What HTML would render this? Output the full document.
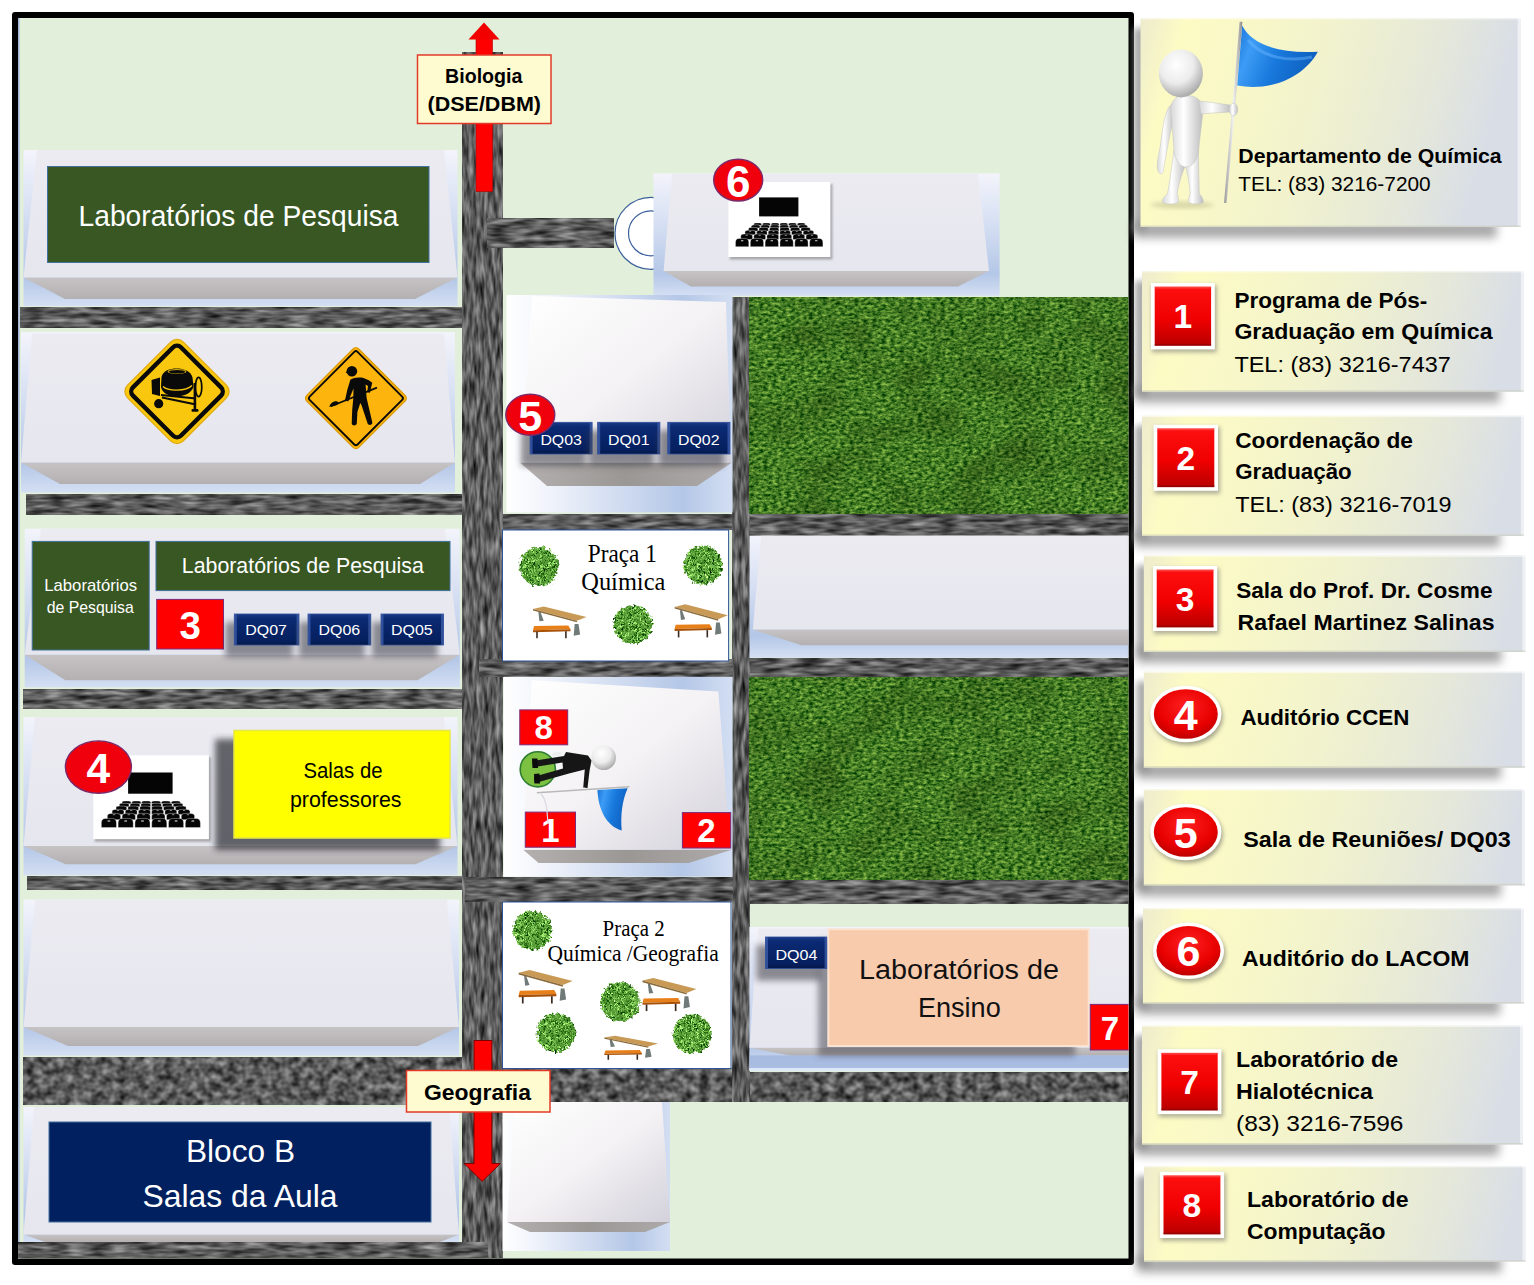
<!DOCTYPE html>
<html><head><meta charset="utf-8"><title>Mapa Departamento de Quimica</title>
<style>
html,body{margin:0;padding:0;background:#fff;}
body{width:1534px;height:1285px;overflow:hidden;font-family:"Liberation Sans",sans-serif;}
svg{display:block;}
</style></head><body>
<svg width="1534" height="1285" viewBox="0 0 1534 1285">
<defs>
<!-- asphalt: horizontal streaks -->
<filter id="asH" x="0" y="0" width="100%" height="100%" filterUnits="objectBoundingBox" color-interpolation-filters="sRGB">
  <feTurbulence type="fractalNoise" baseFrequency="0.045 0.22" numOctaves="2" seed="4" result="n"/>
  <feColorMatrix in="n" type="matrix" values="0.78 0 0 0 -0.03  0.78 0 0 0 -0.03  0.78 0 0 0 -0.03  0 0 0 0 1"/>
</filter>
<filter id="asV" x="0" y="0" width="100%" height="100%" filterUnits="objectBoundingBox" color-interpolation-filters="sRGB">
  <feTurbulence type="fractalNoise" baseFrequency="0.26 0.05" numOctaves="2" seed="7" result="n"/>
  <feColorMatrix in="n" type="matrix" values="0.78 0 0 0 -0.03  0.78 0 0 0 -0.03  0.78 0 0 0 -0.03  0 0 0 0 1"/>
</filter>
<!-- coarse asphalt for thick road -->
<filter id="asC" x="0" y="0" width="100%" height="100%" filterUnits="objectBoundingBox" color-interpolation-filters="sRGB">
  <feTurbulence type="fractalNoise" baseFrequency="0.11 0.12" numOctaves="2" seed="11" result="n"/>
  <feColorMatrix in="n" type="matrix" values="0.78 0 0 0 -0.03  0.78 0 0 0 -0.03  0.78 0 0 0 -0.03  0 0 0 0 1"/>
</filter>
<!-- grass -->
<filter id="grass" x="0" y="0" width="100%" height="100%" filterUnits="objectBoundingBox" color-interpolation-filters="sRGB">
  <feTurbulence type="fractalNoise" baseFrequency="0.22 0.36" numOctaves="3" seed="2" result="n"/>
  <feColorMatrix in="n" type="matrix" values="0.88 0 0 0 -0.17  0.82 0 0 0 0.075  0.45 0 0 0 -0.08  0 0 0 0 1" result="g"/>
  <feTurbulence type="fractalNoise" baseFrequency="0.02 0.025" numOctaves="2" seed="9" result="lo"/>
  <feColorMatrix in="lo" type="matrix" values="0 0 0 0 0.06  0 0 0 0 0.12  0 0 0 0 0  0.7 0 0 0 -0.3" result="shade"/>
  <feComposite in="shade" in2="g" operator="over"/>
</filter>
<!-- bush -->
<filter id="bush" x="-10%" y="-10%" width="120%" height="120%" color-interpolation-filters="sRGB">
  <feTurbulence type="fractalNoise" baseFrequency="0.35" numOctaves="2" seed="5" result="n"/>
  <feColorMatrix in="n" type="matrix" values="1.5 0 0 0 -0.40  1.6 0 0 0 -0.18  1.2 0 0 0 -0.38  0 0 0 0 1" result="g"/>
  <feComposite in="g" in2="SourceGraphic" operator="in" result="c"/>
  <feDisplacementMap in="c" in2="n" scale="7" xChannelSelector="R" yChannelSelector="G"/>
</filter>
<filter id="sh2" x="-30%" y="-30%" width="160%" height="160%"><feGaussianBlur stdDeviation="2"/></filter>
<filter id="sh3" x="-30%" y="-30%" width="160%" height="160%"><feGaussianBlur stdDeviation="3"/></filter>
<filter id="sh5" x="-30%" y="-60%" width="160%" height="220%"><feGaussianBlur stdDeviation="5"/></filter>
<filter id="sh1" x="-30%" y="-30%" width="160%" height="160%"><feGaussianBlur stdDeviation="1.2"/></filter>

<!-- block backgrounds -->
<linearGradient id="bgV" x1="0" y1="0" x2="0" y2="1">
  <stop offset="0" stop-color="#f3f4fb"/><stop offset="0.45" stop-color="#d3ddf2"/><stop offset="0.82" stop-color="#b4c7e7"/><stop offset="1" stop-color="#d4dff3"/>
</linearGradient>
<linearGradient id="bgH" x1="0" y1="0" x2="1" y2="0">
  <stop offset="0" stop-color="#ffffff"/><stop offset="0.18" stop-color="#f1f4fb"/><stop offset="0.78" stop-color="#b4c7e7"/><stop offset="1" stop-color="#d3def2"/>
</linearGradient>
<linearGradient id="topF" x1="0" y1="0" x2="0" y2="1">
  <stop offset="0" stop-color="#ecebf2"/><stop offset="1" stop-color="#e6e6ee"/>
</linearGradient>
<linearGradient id="topD" x1="0" y1="0" x2="1" y2="1">
  <stop offset="0" stop-color="#ffffff"/><stop offset="0.5" stop-color="#f4f2f4"/><stop offset="1" stop-color="#d3d1db"/>
</linearGradient>
<linearGradient id="frontF" x1="0" y1="0" x2="0" y2="1">
  <stop offset="0" stop-color="#c6c3c5"/><stop offset="1" stop-color="#b4b0b2"/>
</linearGradient>
<linearGradient id="frontH" x1="0" y1="0" x2="1" y2="0">
  <stop offset="0" stop-color="#b4b0af"/><stop offset="0.5" stop-color="#9b9795"/><stop offset="1" stop-color="#aeaaa9"/>
</linearGradient>

<!-- legend -->
<linearGradient id="lg" x1="0" y1="0" x2="1" y2="0.28">
  <stop offset="0" stop-color="#edebcd"/><stop offset="0.12" stop-color="#fdfbc4"/><stop offset="0.5" stop-color="#f2f3cd"/><stop offset="0.8" stop-color="#e5e8d9"/><stop offset="1" stop-color="#dadfe6"/>
</linearGradient>
<linearGradient id="redB" x1="0" y1="0" x2="0" y2="1">
  <stop offset="0" stop-color="#ff1010"/><stop offset="0.55" stop-color="#f00000"/><stop offset="1" stop-color="#b80000"/>
</linearGradient>
<radialGradient id="redE" cx="0.5" cy="0.35" r="0.75">
  <stop offset="0" stop-color="#ff2020"/><stop offset="0.6" stop-color="#e80000"/><stop offset="1" stop-color="#a80000"/>
</radialGradient>
<linearGradient id="navy" x1="0" y1="0" x2="0" y2="1">
  <stop offset="0" stop-color="#1b3a86"/><stop offset="0.15" stop-color="#0b2a73"/><stop offset="0.85" stop-color="#06205f"/><stop offset="1" stop-color="#041848"/>
</linearGradient>
<linearGradient id="arrowH" x1="0" y1="0" x2="1" y2="0">
  <stop offset="0" stop-color="#c00000"/><stop offset="0.45" stop-color="#ff2a2a"/><stop offset="1" stop-color="#d00000"/>
</linearGradient>
<radialGradient id="sphere" cx="0.4" cy="0.32" r="0.7">
  <stop offset="0" stop-color="#ffffff"/><stop offset="0.55" stop-color="#ececec"/><stop offset="1" stop-color="#a8a8a8"/>
</radialGradient>
<linearGradient id="bodyG" x1="0" y1="0" x2="1" y2="0">
  <stop offset="0" stop-color="#d8d8d8"/><stop offset="0.4" stop-color="#ffffff"/><stop offset="1" stop-color="#bdbdbd"/>
</linearGradient>
<linearGradient id="flagG" x1="0" y1="0" x2="1" y2="0.3">
  <stop offset="0" stop-color="#1a73d8"/><stop offset="0.25" stop-color="#3c9cf5"/><stop offset="0.6" stop-color="#1878dc"/><stop offset="1" stop-color="#0f62c0"/>
</linearGradient>
<linearGradient id="poleG" x1="0" y1="0" x2="1" y2="0">
  <stop offset="0" stop-color="#9a9a9a"/><stop offset="0.5" stop-color="#f2f2f2"/><stop offset="1" stop-color="#8c8c8c"/>
</linearGradient>
<clipPath id="mapclip"><rect x="18" y="18" width="1110.5" height="1240.5"/></clipPath>
</defs>
<rect x="12.0" y="12.0" width="1122.0" height="1253.0" fill="#000" rx="3"/>
<rect x="18.0" y="18.0" width="1110.5" height="1240.5" fill="#e2efda"/>
<rect x="18.0" y="18.0" width="1.5" height="1240.5" fill="#9fb4d8"/>
<g clip-path="url(#mapclip)">
<rect x="20.0" y="307.5" width="443.0" height="20.0" fill="#555" filter="url(#asH)"/>
<rect x="26.0" y="494.0" width="439.0" height="21.0" fill="#555" filter="url(#asH)"/>
<rect x="23.5" y="689.0" width="439.5" height="19.5" fill="#555" filter="url(#asH)"/>
<rect x="27.5" y="876.0" width="437.5" height="13.5" fill="#555" filter="url(#asH)"/>
<rect x="23.5" y="1057.0" width="439.5" height="47.5" fill="#555" filter="url(#asC)"/>
<rect x="502.0" y="514.0" width="231.0" height="16.0" fill="#555" filter="url(#asH)"/>
<rect x="502.0" y="1068.5" width="248.0" height="33.5" fill="#555" filter="url(#asC)"/>
<rect x="749.0" y="514.0" width="380.0" height="21.5" fill="#555" filter="url(#asH)"/>
<rect x="749.0" y="658.5" width="380.0" height="18.0" fill="#555" filter="url(#asH)"/>
<rect x="749.0" y="879.5" width="380.0" height="24.0" fill="#555" filter="url(#asH)"/>
<rect x="749.0" y="1072.0" width="380.0" height="29.5" fill="#555" filter="url(#asC)"/>
<rect x="462.5" y="52.0" width="40.0" height="1206.0" fill="#555" filter="url(#asV)"/>
<rect x="732.5" y="297.0" width="16.7" height="804.5" fill="#555" filter="url(#asV)"/>
<rect x="18.5" y="1242.0" width="469.0" height="16.0" fill="#555" filter="url(#asH)"/>
<rect x="487.0" y="218.5" width="127.0" height="29.0" fill="#555" filter="url(#asH)"/>
<rect x="479.0" y="659.5" width="254.0" height="17.0" fill="#555" filter="url(#asH)"/>
<rect x="465.0" y="877.0" width="268.0" height="25.0" fill="#555" filter="url(#asH)"/>
<rect x="749.2" y="297.0" width="379.8" height="217.0" fill="#3c7d2b" filter="url(#grass)"/>
<rect x="749.2" y="677.0" width="379.8" height="202.5" fill="#3c7d2b" filter="url(#grass)"/>
<rect x="23.5" y="150.0" width="434.0" height="156.0" fill="url(#bgV)"/>
<polygon points="23.5,277.5 457.5,277.5 415.0,299.0 65.0,299.0" fill="url(#frontF)"/>
<polygon points="37.0,150.0 444.0,150.0 457.5,277.5 23.5,277.5" fill="url(#topF)"/>
<rect x="21.0" y="332.0" width="434.0" height="160.5" fill="url(#bgV)"/>
<polygon points="21.0,462.5 455.0,462.5 420.0,484.0 60.0,484.0" fill="url(#frontF)"/>
<polygon points="32.0,333.5 444.0,333.5 455.0,462.5 21.0,462.5" fill="url(#topF)"/>
<rect x="24.7" y="528.7" width="435.1" height="158.7" fill="url(#bgV)"/>
<polygon points="24.7,654.8 459.8,654.8 417.4,680.2 65.4,680.2" fill="url(#frontF)"/>
<polygon points="41.0,528.7 445.0,528.7 459.8,654.8 24.7,654.8" fill="url(#topF)"/>
<rect x="23.5" y="717.0" width="434.0" height="158.2" fill="url(#bgV)"/>
<polygon points="23.5,846.0 457.5,846.0 415.4,864.2 65.6,864.2" fill="url(#frontF)"/>
<polygon points="35.0,717.0 444.0,717.0 457.5,846.0 23.5,846.0" fill="url(#topF)"/>
<rect x="23.5" y="899.5" width="435.5" height="156.0" fill="url(#bgV)"/>
<polygon points="23.5,1027.0 459.0,1027.0 418.0,1046.0 68.0,1046.0" fill="url(#frontF)"/>
<polygon points="35.0,899.5 447.0,899.5 459.0,1027.0 23.5,1027.0" fill="url(#topF)"/>
<rect x="23.5" y="1107.0" width="435.5" height="135.0" fill="url(#bgV)"/>
<polygon points="23.5,1234.5 459.0,1234.5 440.0,1242.0 45.0,1242.0" fill="url(#frontF)"/>
<polygon points="34.0,1107.0 449.0,1107.0 459.0,1234.5 23.5,1234.5" fill="url(#topF)"/>
<rect x="502.5" y="1102.0" width="167.5" height="149.0" fill="url(#bgH)"/>
<polygon points="507.0,1222.0 670.0,1222.0 645.0,1232.0 530.0,1232.0" fill="url(#frontH)"/>
<polygon points="515.0,1102.0 662.0,1102.0 670.0,1222.0 507.0,1222.0" fill="url(#topD)"/>
<rect x="749.5" y="535.7" width="379.5" height="122.1" fill="url(#bgV)"/>
<polygon points="752.8,629.6 1129.0,629.6 1129.0,645.2 801.6,645.2" fill="url(#frontF)"/>
<polygon points="761.0,535.7 1129.0,535.7 1129.0,629.6 752.8,629.6" fill="url(#topF)"/>
<rect x="749.4" y="927.0" width="379.6" height="144.0" fill="url(#bgV)"/>
<polygon points="749.4,1047.8 1129.0,1047.8 1129.0,1055.4 790.0,1055.4" fill="url(#frontF)"/>
<polygon points="758.0,928.5 1129.0,928.5 1129.0,1047.8 749.4,1047.8" fill="url(#topF)"/>
<rect x="749.4" y="1055.4" width="379.6" height="12.6" fill="#9db3dc" opacity="0.75"/>
<rect x="749.4" y="1068.0" width="379.6" height="3.0" fill="#dce8f6"/>
<circle cx="651" cy="233.3" r="36" fill="#fff" stroke="#3a5f9a" stroke-width="1.2"/>
<circle cx="651" cy="233.3" r="22.5" fill="#fff" stroke="#3a5f9a" stroke-width="1.2"/>
<rect x="653.5" y="173.4" width="346.1" height="122.4" fill="url(#bgV)"/>
<polygon points="663.6,271.0 989.0,271.0 958.0,286.5 691.0,286.5" fill="url(#frontF)"/>
<polygon points="672.0,174.0 978.0,174.0 989.0,271.0 663.6,271.0" fill="url(#topF)"/>
<rect x="506.5" y="295.0" width="226.0" height="217.5" fill="url(#bgH)"/>
<polygon points="520.0,462.5 732.0,462.5 697.0,486.0 547.0,486.0" fill="url(#frontH)"/>
<polygon points="532.0,296.0 726.0,302.0 731.0,462.5 520.0,462.5" fill="url(#topD)"/>
<rect x="503.6" y="676.8" width="229.0" height="199.8" fill="url(#bgH)"/>
<polygon points="523.2,849.7 732.0,849.7 688.4,863.0 538.6,863.0" fill="url(#frontH)"/>
<polygon points="531.8,680.3 718.4,691.4 730.4,849.7 523.2,849.7" fill="url(#topD)"/>
<rect x="502.5" y="530.0" width="226.1" height="131.0" fill="#fff" stroke="#2f5597" stroke-width="1"/>
<rect x="502.5" y="902.0" width="228.5" height="166.5" fill="#fff" stroke="#2f5597" stroke-width="1"/>
</g>
<g clip-path="url(#mapclip)">
<rect x="47.5" y="166.5" width="381.5" height="96.0" fill="#385723" stroke="#41719c" stroke-width="1"/>
<text x="78.5" y="226.0" font-size="28.6" font-family="Liberation Sans, sans-serif" font-weight="normal" fill="#fff" text-anchor="start" textLength="320.0" lengthAdjust="spacingAndGlyphs" >Laboratórios de Pesquisa</text>
<rect x="32.2" y="541.4" width="117.0" height="108.6" fill="#385723" stroke="#41719c" stroke-width="1"/>
<text x="44.2" y="590.6" font-size="15.9" font-family="Liberation Sans, sans-serif" font-weight="normal" fill="#fff" text-anchor="start" textLength="93.0" lengthAdjust="spacingAndGlyphs" >Laboratórios</text>
<text x="46.8" y="612.5" font-size="15.9" font-family="Liberation Sans, sans-serif" font-weight="normal" fill="#fff" text-anchor="start" textLength="87.0" lengthAdjust="spacingAndGlyphs" >de Pesquisa</text>
<rect x="156.0" y="541.4" width="294.0" height="49.2" fill="#385723" stroke="#41719c" stroke-width="1"/>
<text x="181.8" y="573.3" font-size="21.4" font-family="Liberation Sans, sans-serif" font-weight="normal" fill="#fff" text-anchor="start" textLength="242.0" lengthAdjust="spacingAndGlyphs" >Laboratórios de Pesquisa</text>
<rect x="156.7" y="599.4" width="66.8" height="49.6" fill="#ff0000" stroke="#7a2a7a" stroke-width="1"/>
<text x="190.1" y="638.5" font-size="38.5" font-family="Liberation Sans, sans-serif" font-weight="bold" fill="#fff" text-anchor="middle"  >3</text>
<rect x="225.3" y="622.0" width="67.7" height="35.0" fill="#3a3a44" opacity="0.55" filter="url(#sh3)"/>
<rect x="234.3" y="614.0" width="64.7" height="31.0" fill="url(#navy)" stroke="#2f4f9a" stroke-width="0.8"/>
<rect x="234.3" y="614.0" width="2.5" height="31.0" fill="#3a5aa8" opacity="0.8"/>
<rect x="296.5" y="614.0" width="2.5" height="31.0" fill="#3a5aa8" opacity="0.8"/>
<text x="245.3" y="635.3" font-size="15" font-family="Liberation Sans, sans-serif" font-weight="normal" fill="#fff" text-anchor="start" textLength="41.7" lengthAdjust="spacingAndGlyphs" >DQ07</text>
<rect x="299.0" y="622.0" width="65.8" height="35.0" fill="#3a3a44" opacity="0.55" filter="url(#sh3)"/>
<rect x="308.0" y="614.0" width="62.8" height="31.0" fill="url(#navy)" stroke="#2f4f9a" stroke-width="0.8"/>
<rect x="308.0" y="614.0" width="2.5" height="31.0" fill="#3a5aa8" opacity="0.8"/>
<rect x="368.3" y="614.0" width="2.5" height="31.0" fill="#3a5aa8" opacity="0.8"/>
<text x="318.5" y="635.3" font-size="15" font-family="Liberation Sans, sans-serif" font-weight="normal" fill="#fff" text-anchor="start" textLength="41.7" lengthAdjust="spacingAndGlyphs" >DQ06</text>
<rect x="372.0" y="622.0" width="65.5" height="35.0" fill="#3a3a44" opacity="0.55" filter="url(#sh3)"/>
<rect x="381.0" y="614.0" width="62.5" height="31.0" fill="url(#navy)" stroke="#2f4f9a" stroke-width="0.8"/>
<rect x="381.0" y="614.0" width="2.5" height="31.0" fill="#3a5aa8" opacity="0.8"/>
<rect x="441.0" y="614.0" width="2.5" height="31.0" fill="#3a5aa8" opacity="0.8"/>
<text x="391.0" y="635.3" font-size="15" font-family="Liberation Sans, sans-serif" font-weight="normal" fill="#fff" text-anchor="start" textLength="41.7" lengthAdjust="spacingAndGlyphs" >DQ05</text>
<rect x="215.0" y="739.0" width="225.0" height="111.0" fill="#2a2a30" opacity="0.7" filter="url(#sh3)"/>
<rect x="234.0" y="730.5" width="216.0" height="107.5" fill="#ffff00" stroke="#e6e64a" stroke-width="1.5"/>
<text x="303.5" y="778.0" font-size="21.6" font-family="Liberation Sans, sans-serif" font-weight="normal" fill="#000" text-anchor="start" textLength="79.0" lengthAdjust="spacingAndGlyphs" >Salas de</text>
<text x="290.0" y="807.0" font-size="21.6" font-family="Liberation Sans, sans-serif" font-weight="normal" fill="#000" text-anchor="start" textLength="111.5" lengthAdjust="spacingAndGlyphs" >professores</text>
<rect x="94.7" y="757.3" width="116.2" height="84.4" fill="#555" opacity="0.45" filter="url(#sh1)"/>
<rect x="93.2" y="755.3" width="115.7" height="83.9" fill="#fff"/>
<rect x="128.1" y="772.5" width="44.5" height="21.2" fill="#050505"/>
<path d="M122.04,803.85 V802.16 Q122.04,801.03 124.51,801.03 H128.46 Q130.93,801.03 130.93,802.16 V803.85 Z" fill="#050505" stroke="#fff" stroke-width="0.35"/>
<path d="M131.91,803.85 V802.16 Q131.91,801.03 134.38,801.03 H138.33 Q140.80,801.03 140.80,802.16 V803.85 Z" fill="#050505" stroke="#fff" stroke-width="0.35"/>
<path d="M141.79,803.85 V802.16 Q141.79,801.03 144.25,801.03 H148.20 Q150.67,801.03 150.67,802.16 V803.85 Z" fill="#050505" stroke="#fff" stroke-width="0.35"/>
<path d="M151.66,803.85 V802.16 Q151.66,801.03 154.13,801.03 H158.08 Q160.55,801.03 160.55,802.16 V803.85 Z" fill="#050505" stroke="#fff" stroke-width="0.35"/>
<path d="M161.53,803.85 V802.16 Q161.53,801.03 164.00,801.03 H167.95 Q170.42,801.03 170.42,802.16 V803.85 Z" fill="#050505" stroke="#fff" stroke-width="0.35"/>
<path d="M171.41,803.85 V802.16 Q171.41,801.03 173.87,801.03 H177.82 Q180.29,801.03 180.29,802.16 V803.85 Z" fill="#050505" stroke="#fff" stroke-width="0.35"/>
<path d="M119.35,806.78 V804.68 Q119.35,803.29 122.05,803.29 H126.35 Q129.05,803.29 129.05,804.68 V806.78 Z" fill="#050505" stroke="#fff" stroke-width="0.35"/>
<path d="M130.12,806.78 V804.68 Q130.12,803.29 132.82,803.29 H137.13 Q139.82,803.29 139.82,804.68 V806.78 Z" fill="#050505" stroke="#fff" stroke-width="0.35"/>
<path d="M140.90,806.78 V804.68 Q140.90,803.29 143.59,803.29 H147.90 Q150.59,803.29 150.59,804.68 V806.78 Z" fill="#050505" stroke="#fff" stroke-width="0.35"/>
<path d="M151.67,806.78 V804.68 Q151.67,803.29 154.36,803.29 H158.67 Q161.36,803.29 161.36,804.68 V806.78 Z" fill="#050505" stroke="#fff" stroke-width="0.35"/>
<path d="M162.44,806.78 V804.68 Q162.44,803.29 165.13,803.29 H169.44 Q172.13,803.29 172.13,804.68 V806.78 Z" fill="#050505" stroke="#fff" stroke-width="0.35"/>
<path d="M173.21,806.78 V804.68 Q173.21,803.29 175.90,803.29 H180.21 Q182.90,803.29 182.90,804.68 V806.78 Z" fill="#050505" stroke="#fff" stroke-width="0.35"/>
<path d="M116.03,810.23 V807.74 Q116.03,806.08 119.00,806.08 H123.76 Q126.73,806.08 126.73,807.74 V810.23 Z" fill="#050505" stroke="#fff" stroke-width="0.35"/>
<path d="M127.91,810.23 V807.74 Q127.91,806.08 130.88,806.08 H135.64 Q138.61,806.08 138.61,807.74 V810.23 Z" fill="#050505" stroke="#fff" stroke-width="0.35"/>
<path d="M139.79,810.23 V807.74 Q139.79,806.08 142.76,806.08 H147.52 Q150.49,806.08 150.49,807.74 V810.23 Z" fill="#050505" stroke="#fff" stroke-width="0.35"/>
<path d="M151.68,810.23 V807.74 Q151.68,806.08 154.65,806.08 H159.40 Q162.37,806.08 162.37,807.74 V810.23 Z" fill="#050505" stroke="#fff" stroke-width="0.35"/>
<path d="M163.56,810.23 V807.74 Q163.56,806.08 166.53,806.08 H171.28 Q174.25,806.08 174.25,807.74 V810.23 Z" fill="#050505" stroke="#fff" stroke-width="0.35"/>
<path d="M175.44,810.23 V807.74 Q175.44,806.08 178.41,806.08 H183.16 Q186.13,806.08 186.13,807.74 V810.23 Z" fill="#050505" stroke="#fff" stroke-width="0.35"/>
<path d="M112.08,814.39 V811.40 Q112.08,809.40 115.38,809.40 H120.66 Q123.96,809.40 123.96,811.40 V814.39 Z" fill="#050505" stroke="#fff" stroke-width="0.35"/>
<rect x="116.96" y="810.28" width="2.11" height="0.60" fill="#ddd"/>
<path d="M125.28,814.39 V811.40 Q125.28,809.40 128.58,809.40 H133.86 Q137.16,809.40 137.16,811.40 V814.39 Z" fill="#050505" stroke="#fff" stroke-width="0.35"/>
<rect x="130.17" y="810.28" width="2.11" height="0.60" fill="#ddd"/>
<path d="M138.48,814.39 V811.40 Q138.48,809.40 141.78,809.40 H147.07 Q150.37,809.40 150.37,811.40 V814.39 Z" fill="#050505" stroke="#fff" stroke-width="0.35"/>
<rect x="143.37" y="810.28" width="2.11" height="0.60" fill="#ddd"/>
<path d="M151.69,814.39 V811.40 Q151.69,809.40 154.99,809.40 H160.27 Q163.57,809.40 163.57,811.40 V814.39 Z" fill="#050505" stroke="#fff" stroke-width="0.35"/>
<rect x="156.57" y="810.28" width="2.11" height="0.60" fill="#ddd"/>
<path d="M164.89,814.39 V811.40 Q164.89,809.40 168.19,809.40 H173.47 Q176.77,809.40 176.77,811.40 V814.39 Z" fill="#050505" stroke="#fff" stroke-width="0.35"/>
<rect x="169.77" y="810.28" width="2.11" height="0.60" fill="#ddd"/>
<path d="M178.09,814.39 V811.40 Q178.09,809.40 181.39,809.40 H186.67 Q189.97,809.40 189.97,811.40 V814.39 Z" fill="#050505" stroke="#fff" stroke-width="0.35"/>
<rect x="182.98" y="810.28" width="2.11" height="0.60" fill="#ddd"/>
<path d="M107.34,819.71 V815.92 Q107.34,813.39 111.03,813.39 H116.95 Q120.65,813.39 120.65,815.92 V819.71 Z" fill="#050505" stroke="#fff" stroke-width="0.35"/>
<rect x="112.81" y="814.50" width="2.37" height="0.61" fill="#ddd"/>
<path d="M122.12,819.71 V815.92 Q122.12,813.39 125.82,813.39 H131.74 Q135.43,813.39 135.43,815.92 V819.71 Z" fill="#050505" stroke="#fff" stroke-width="0.35"/>
<rect x="127.60" y="814.50" width="2.37" height="0.61" fill="#ddd"/>
<path d="M136.91,819.71 V815.92 Q136.91,813.39 140.61,813.39 H146.52 Q150.22,813.39 150.22,815.92 V819.71 Z" fill="#050505" stroke="#fff" stroke-width="0.35"/>
<rect x="142.38" y="814.50" width="2.37" height="0.61" fill="#ddd"/>
<path d="M151.70,819.71 V815.92 Q151.70,813.39 155.40,813.39 H161.31 Q165.01,813.39 165.01,815.92 V819.71 Z" fill="#050505" stroke="#fff" stroke-width="0.35"/>
<rect x="157.17" y="814.50" width="2.37" height="0.61" fill="#ddd"/>
<path d="M166.49,819.71 V815.92 Q166.49,813.39 170.18,813.39 H176.10 Q179.80,813.39 179.80,815.92 V819.71 Z" fill="#050505" stroke="#fff" stroke-width="0.35"/>
<rect x="171.96" y="814.50" width="2.37" height="0.61" fill="#ddd"/>
<path d="M181.28,819.71 V815.92 Q181.28,813.39 184.97,813.39 H190.89 Q194.58,813.39 194.58,815.92 V819.71 Z" fill="#050505" stroke="#fff" stroke-width="0.35"/>
<rect x="186.75" y="814.50" width="2.37" height="0.61" fill="#ddd"/>
<path d="M101.33,827.62 V823.03 Q101.33,818.45 105.53,818.45 H112.25 Q116.45,818.45 116.45,823.03 V827.62 Z" fill="#050505" stroke="#fff" stroke-width="0.35"/>
<rect x="107.54" y="820.46" width="2.69" height="1.10" fill="#ddd"/>
<path d="M118.12,827.62 V823.03 Q118.12,818.45 122.32,818.45 H129.04 Q133.24,818.45 133.24,823.03 V827.62 Z" fill="#050505" stroke="#fff" stroke-width="0.35"/>
<rect x="124.34" y="820.46" width="2.69" height="1.10" fill="#ddd"/>
<path d="M134.92,827.62 V823.03 Q134.92,818.45 139.12,818.45 H145.84 Q150.04,818.45 150.04,823.03 V827.62 Z" fill="#050505" stroke="#fff" stroke-width="0.35"/>
<rect x="141.13" y="820.46" width="2.69" height="1.10" fill="#ddd"/>
<path d="M151.72,827.62 V823.03 Q151.72,818.45 155.92,818.45 H162.63 Q166.83,818.45 166.83,823.03 V827.62 Z" fill="#050505" stroke="#fff" stroke-width="0.35"/>
<rect x="157.93" y="820.46" width="2.69" height="1.10" fill="#ddd"/>
<path d="M168.51,827.62 V823.03 Q168.51,818.45 172.71,818.45 H179.43 Q183.63,818.45 183.63,823.03 V827.62 Z" fill="#050505" stroke="#fff" stroke-width="0.35"/>
<rect x="174.73" y="820.46" width="2.69" height="1.10" fill="#ddd"/>
<path d="M185.31,827.62 V823.03 Q185.31,818.45 189.51,818.45 H196.23 Q200.42,818.45 200.42,823.03 V827.62 Z" fill="#050505" stroke="#fff" stroke-width="0.35"/>
<rect x="191.52" y="820.46" width="2.69" height="1.10" fill="#ddd"/>
<ellipse cx="98.4" cy="767.1" rx="33" ry="26.2" fill="#f0000c" stroke="#7a2a6a" stroke-width="1.4"/>
<text x="98.4" y="783.2" font-size="42.5" font-family="Liberation Sans, sans-serif" font-weight="bold" fill="#fff" text-anchor="middle"  >4</text>
<rect x="729.8" y="184.0" width="102.6" height="75.5" fill="#555" opacity="0.45" filter="url(#sh1)"/>
<rect x="728.3" y="182.0" width="102.1" height="75.0" fill="#fff"/>
<rect x="759.1" y="197.4" width="39.3" height="19.0" fill="#050505"/>
<path d="M753.75,225.40 V223.89 Q753.75,222.88 755.93,222.88 H759.41 Q761.59,222.88 761.59,223.89 V225.40 Z" fill="#050505" stroke="#fff" stroke-width="0.35"/>
<path d="M762.46,225.40 V223.89 Q762.46,222.88 764.64,222.88 H768.13 Q770.30,222.88 770.30,223.89 V225.40 Z" fill="#050505" stroke="#fff" stroke-width="0.35"/>
<path d="M771.18,225.40 V223.89 Q771.18,222.88 773.35,222.88 H776.84 Q779.02,222.88 779.02,223.89 V225.40 Z" fill="#050505" stroke="#fff" stroke-width="0.35"/>
<path d="M779.89,225.40 V223.89 Q779.89,222.88 782.07,222.88 H785.55 Q787.73,222.88 787.73,223.89 V225.40 Z" fill="#050505" stroke="#fff" stroke-width="0.35"/>
<path d="M788.60,225.40 V223.89 Q788.60,222.88 790.78,222.88 H794.26 Q796.44,222.88 796.44,223.89 V225.40 Z" fill="#050505" stroke="#fff" stroke-width="0.35"/>
<path d="M797.31,225.40 V223.89 Q797.31,222.88 799.49,222.88 H802.98 Q805.15,222.88 805.15,223.89 V225.40 Z" fill="#050505" stroke="#fff" stroke-width="0.35"/>
<path d="M751.38,228.02 V226.14 Q751.38,224.90 753.75,224.90 H757.56 Q759.93,224.90 759.93,226.14 V228.02 Z" fill="#050505" stroke="#fff" stroke-width="0.35"/>
<path d="M760.88,228.02 V226.14 Q760.88,224.90 763.26,224.90 H767.06 Q769.44,224.90 769.44,226.14 V228.02 Z" fill="#050505" stroke="#fff" stroke-width="0.35"/>
<path d="M770.39,228.02 V226.14 Q770.39,224.90 772.77,224.90 H776.57 Q778.94,224.90 778.94,226.14 V228.02 Z" fill="#050505" stroke="#fff" stroke-width="0.35"/>
<path d="M779.89,228.02 V226.14 Q779.89,224.90 782.27,224.90 H786.07 Q788.45,224.90 788.45,226.14 V228.02 Z" fill="#050505" stroke="#fff" stroke-width="0.35"/>
<path d="M789.40,228.02 V226.14 Q789.40,224.90 791.78,224.90 H795.58 Q797.95,224.90 797.95,226.14 V228.02 Z" fill="#050505" stroke="#fff" stroke-width="0.35"/>
<path d="M798.90,228.02 V226.14 Q798.90,224.90 801.28,224.90 H805.08 Q807.46,224.90 807.46,226.14 V228.02 Z" fill="#050505" stroke="#fff" stroke-width="0.35"/>
<path d="M748.45,231.11 V228.88 Q748.45,227.39 751.07,227.39 H755.26 Q757.88,227.39 757.88,228.88 V231.11 Z" fill="#050505" stroke="#fff" stroke-width="0.35"/>
<path d="M758.93,231.11 V228.88 Q758.93,227.39 761.55,227.39 H765.75 Q768.37,227.39 768.37,228.88 V231.11 Z" fill="#050505" stroke="#fff" stroke-width="0.35"/>
<path d="M769.42,231.11 V228.88 Q769.42,227.39 772.04,227.39 H776.23 Q778.85,227.39 778.85,228.88 V231.11 Z" fill="#050505" stroke="#fff" stroke-width="0.35"/>
<path d="M779.90,231.11 V228.88 Q779.90,227.39 782.52,227.39 H786.72 Q789.34,227.39 789.34,228.88 V231.11 Z" fill="#050505" stroke="#fff" stroke-width="0.35"/>
<path d="M790.39,231.11 V228.88 Q790.39,227.39 793.01,227.39 H797.20 Q799.82,227.39 799.82,228.88 V231.11 Z" fill="#050505" stroke="#fff" stroke-width="0.35"/>
<path d="M800.87,231.11 V228.88 Q800.87,227.39 803.49,227.39 H807.69 Q810.31,227.39 810.31,228.88 V231.11 Z" fill="#050505" stroke="#fff" stroke-width="0.35"/>
<path d="M744.96,234.82 V232.15 Q744.96,230.36 747.87,230.36 H752.53 Q755.45,230.36 755.45,232.15 V234.82 Z" fill="#050505" stroke="#fff" stroke-width="0.35"/>
<rect x="749.27" y="231.15" width="1.86" height="0.60" fill="#ddd"/>
<path d="M756.61,234.82 V232.15 Q756.61,230.36 759.52,230.36 H764.18 Q767.10,230.36 767.10,232.15 V234.82 Z" fill="#050505" stroke="#fff" stroke-width="0.35"/>
<rect x="760.92" y="231.15" width="1.86" height="0.60" fill="#ddd"/>
<path d="M768.26,234.82 V232.15 Q768.26,230.36 771.17,230.36 H775.83 Q778.75,230.36 778.75,232.15 V234.82 Z" fill="#050505" stroke="#fff" stroke-width="0.35"/>
<rect x="772.57" y="231.15" width="1.86" height="0.60" fill="#ddd"/>
<path d="M779.91,234.82 V232.15 Q779.91,230.36 782.82,230.36 H787.48 Q790.40,230.36 790.40,232.15 V234.82 Z" fill="#050505" stroke="#fff" stroke-width="0.35"/>
<rect x="784.22" y="231.15" width="1.86" height="0.60" fill="#ddd"/>
<path d="M791.56,234.82 V232.15 Q791.56,230.36 794.47,230.36 H799.14 Q802.05,230.36 802.05,232.15 V234.82 Z" fill="#050505" stroke="#fff" stroke-width="0.35"/>
<rect x="795.87" y="231.15" width="1.86" height="0.60" fill="#ddd"/>
<path d="M803.21,234.82 V232.15 Q803.21,230.36 806.13,230.36 H810.79 Q813.70,230.36 813.70,232.15 V234.82 Z" fill="#050505" stroke="#fff" stroke-width="0.35"/>
<rect x="807.52" y="231.15" width="1.86" height="0.60" fill="#ddd"/>
<path d="M740.78,239.58 V236.19 Q740.78,233.93 744.04,233.93 H749.26 Q752.52,233.93 752.52,236.19 V239.58 Z" fill="#050505" stroke="#fff" stroke-width="0.35"/>
<rect x="745.60" y="234.92" width="2.09" height="0.60" fill="#ddd"/>
<path d="M753.82,239.58 V236.19 Q753.82,233.93 757.09,233.93 H762.31 Q765.57,233.93 765.57,236.19 V239.58 Z" fill="#050505" stroke="#fff" stroke-width="0.35"/>
<rect x="758.65" y="234.92" width="2.09" height="0.60" fill="#ddd"/>
<path d="M766.87,239.58 V236.19 Q766.87,233.93 770.14,233.93 H775.36 Q778.62,233.93 778.62,236.19 V239.58 Z" fill="#050505" stroke="#fff" stroke-width="0.35"/>
<rect x="771.70" y="234.92" width="2.09" height="0.60" fill="#ddd"/>
<path d="M779.92,239.58 V236.19 Q779.92,233.93 783.19,233.93 H788.41 Q791.67,233.93 791.67,236.19 V239.58 Z" fill="#050505" stroke="#fff" stroke-width="0.35"/>
<rect x="784.75" y="234.92" width="2.09" height="0.60" fill="#ddd"/>
<path d="M792.97,239.58 V236.19 Q792.97,233.93 796.24,233.93 H801.45 Q804.72,233.93 804.72,236.19 V239.58 Z" fill="#050505" stroke="#fff" stroke-width="0.35"/>
<rect x="797.80" y="234.92" width="2.09" height="0.60" fill="#ddd"/>
<path d="M806.02,239.58 V236.19 Q806.02,233.93 809.28,233.93 H814.50 Q817.77,233.93 817.77,236.19 V239.58 Z" fill="#050505" stroke="#fff" stroke-width="0.35"/>
<rect x="810.85" y="234.92" width="2.09" height="0.60" fill="#ddd"/>
<path d="M735.47,246.65 V242.55 Q735.47,238.45 739.18,238.45 H745.11 Q748.81,238.45 748.81,242.55 V246.65 Z" fill="#050505" stroke="#fff" stroke-width="0.35"/>
<rect x="740.96" y="240.25" width="2.37" height="0.98" fill="#ddd"/>
<path d="M750.29,246.65 V242.55 Q750.29,238.45 754.00,238.45 H759.93 Q763.63,238.45 763.63,242.55 V246.65 Z" fill="#050505" stroke="#fff" stroke-width="0.35"/>
<rect x="755.78" y="240.25" width="2.37" height="0.98" fill="#ddd"/>
<path d="M765.12,246.65 V242.55 Q765.12,238.45 768.82,238.45 H774.75 Q778.46,238.45 778.46,242.55 V246.65 Z" fill="#050505" stroke="#fff" stroke-width="0.35"/>
<rect x="770.60" y="240.25" width="2.37" height="0.98" fill="#ddd"/>
<path d="M779.94,246.65 V242.55 Q779.94,238.45 783.64,238.45 H789.57 Q793.28,238.45 793.28,242.55 V246.65 Z" fill="#050505" stroke="#fff" stroke-width="0.35"/>
<rect x="785.42" y="240.25" width="2.37" height="0.98" fill="#ddd"/>
<path d="M794.76,246.65 V242.55 Q794.76,238.45 798.46,238.45 H804.39 Q808.10,238.45 808.10,242.55 V246.65 Z" fill="#050505" stroke="#fff" stroke-width="0.35"/>
<rect x="800.24" y="240.25" width="2.37" height="0.98" fill="#ddd"/>
<path d="M809.58,246.65 V242.55 Q809.58,238.45 813.29,238.45 H819.21 Q822.92,238.45 822.92,242.55 V246.65 Z" fill="#050505" stroke="#fff" stroke-width="0.35"/>
<rect x="815.06" y="240.25" width="2.37" height="0.98" fill="#ddd"/>
<ellipse cx="738.2" cy="180.1" rx="24.5" ry="20.9" fill="#f0000c" stroke="#7a2a6a" stroke-width="1.4"/>
<text x="738.2" y="197.3" font-size="44" font-family="Liberation Sans, sans-serif" font-weight="bold" fill="#fff" text-anchor="middle"  >6</text>
<rect x="521.1" y="430.3" width="65.0" height="35.7" fill="#3a3a44" opacity="0.55" filter="url(#sh3)"/>
<rect x="530.1" y="422.3" width="62.0" height="31.7" fill="url(#navy)" stroke="#2f4f9a" stroke-width="0.8"/>
<rect x="530.1" y="422.3" width="2.5" height="31.7" fill="#3a5aa8" opacity="0.8"/>
<rect x="589.6" y="422.3" width="2.5" height="31.7" fill="#3a5aa8" opacity="0.8"/>
<text x="540.4" y="444.7" font-size="15" font-family="Liberation Sans, sans-serif" font-weight="normal" fill="#fff" text-anchor="start" textLength="41.5" lengthAdjust="spacingAndGlyphs" >DQ03</text>
<rect x="588.7" y="430.3" width="65.2" height="35.7" fill="#3a3a44" opacity="0.55" filter="url(#sh3)"/>
<rect x="597.7" y="422.3" width="62.2" height="31.7" fill="url(#navy)" stroke="#2f4f9a" stroke-width="0.8"/>
<rect x="597.7" y="422.3" width="2.5" height="31.7" fill="#3a5aa8" opacity="0.8"/>
<rect x="657.4" y="422.3" width="2.5" height="31.7" fill="#3a5aa8" opacity="0.8"/>
<text x="608.0" y="444.7" font-size="15" font-family="Liberation Sans, sans-serif" font-weight="normal" fill="#fff" text-anchor="start" textLength="41.5" lengthAdjust="spacingAndGlyphs" >DQ01</text>
<rect x="658.8" y="430.3" width="65.2" height="35.7" fill="#3a3a44" opacity="0.55" filter="url(#sh3)"/>
<rect x="667.8" y="422.3" width="62.2" height="31.7" fill="url(#navy)" stroke="#2f4f9a" stroke-width="0.8"/>
<rect x="667.8" y="422.3" width="2.5" height="31.7" fill="#3a5aa8" opacity="0.8"/>
<rect x="727.5" y="422.3" width="2.5" height="31.7" fill="#3a5aa8" opacity="0.8"/>
<text x="678.0" y="444.7" font-size="15" font-family="Liberation Sans, sans-serif" font-weight="normal" fill="#fff" text-anchor="start" textLength="41.5" lengthAdjust="spacingAndGlyphs" >DQ02</text>
<ellipse cx="530.3" cy="414.8" rx="24.5" ry="20.5" fill="#f0000c" stroke="#7a2a6a" stroke-width="1.4"/>
<text x="530.3" y="430.7" font-size="43" font-family="Liberation Sans, sans-serif" font-weight="bold" fill="#fff" text-anchor="middle"  >5</text>
<rect x="519.8" y="709.9" width="47.9" height="34.9" fill="#ff0000" stroke="#7a2a7a" stroke-width="1"/>
<text x="543.8" y="739.0" font-size="33" font-family="Liberation Sans, sans-serif" font-weight="bold" fill="#fff" text-anchor="middle"  >8</text>
<rect x="525.3" y="812.1" width="50.2" height="35.1" fill="#ff0000" stroke="#7a2a7a" stroke-width="1"/>
<text x="550.4" y="841.5" font-size="33" font-family="Liberation Sans, sans-serif" font-weight="bold" fill="#fff" text-anchor="middle"  >1</text>
<rect x="682.4" y="812.6" width="48.3" height="35.4" fill="#ff0000" stroke="#7a2a7a" stroke-width="1"/>
<text x="706.5" y="842.0" font-size="33" font-family="Liberation Sans, sans-serif" font-weight="bold" fill="#fff" text-anchor="middle"  >2</text>
<circle cx="537.8" cy="769.3" r="17.6" fill="#7cc142" stroke="#2e7d32" stroke-width="1.6"/>
<path d="M532.5,761 L564,756 L566,752 L588,755.5 L591.5,760.5 L589.5,771 L587.5,788 L583.2,788 L584.8,769.5 L569,773.5 L537,782.5 L534.5,782.8 L534,776.8 L563,768.5 L562.5,762.5 L533,767.2 Z" fill="#161616"/>
<path d="M532,758.5 L537.5,758.5 L538,768 L532.5,768 Z M534,774 L539.5,773.5 L540,783.5 L534.5,783.5 Z" fill="#0c0c0c"/>
<ellipse cx="584" cy="790" rx="4" ry="2.6" fill="#f4f4f4"/>
<ellipse cx="557" cy="754" rx="5" ry="2" fill="#eee" transform="rotate(-12 557 754)"/>
<circle cx="603.7" cy="757.8" r="12.3" fill="url(#sphere)"/>
<path d="M536.9,792.8 L629.4,786.7" stroke="#b9b9b9" stroke-width="1.6"/>
<path d="M541,794 C547,800 547,812 548,824" stroke="#d9d9e2" stroke-width="1.2" fill="none"/>
<path d="M597.4,790 L627.7,788.2 C622,801 620.5,815 621.7,830.5 C607,826 598.5,811 597.4,790 Z" fill="url(#flagG)"/>
<rect x="818.0" y="940.0" width="257.0" height="116.0" fill="#3a3a44" opacity="0.5" filter="url(#sh3)"/>
<rect x="756.5" y="945.0" width="64.6" height="35.6" fill="#3a3a44" opacity="0.55" filter="url(#sh3)"/>
<rect x="765.5" y="937.0" width="61.6" height="31.6" fill="url(#navy)" stroke="#2f4f9a" stroke-width="0.8"/>
<rect x="765.5" y="937.0" width="2.5" height="31.6" fill="#3a5aa8" opacity="0.8"/>
<rect x="824.6" y="937.0" width="2.5" height="31.6" fill="#3a5aa8" opacity="0.8"/>
<text x="775.5" y="960.4" font-size="15" font-family="Liberation Sans, sans-serif" font-weight="normal" fill="#fff" text-anchor="start" textLength="42.0" lengthAdjust="spacingAndGlyphs" >DQ04</text>
<rect x="828.3" y="929.2" width="260.4" height="116.8" fill="#f8cbad" stroke="#fbe3d2" stroke-width="2"/>
<text x="859.0" y="979.2" font-size="28.4" font-family="Liberation Sans, sans-serif" font-weight="normal" fill="#111" text-anchor="start" textLength="200.0" lengthAdjust="spacingAndGlyphs" >Laboratórios de</text>
<text x="917.9" y="1017.2" font-size="28.4" font-family="Liberation Sans, sans-serif" font-weight="normal" fill="#111" text-anchor="start" textLength="82.8" lengthAdjust="spacingAndGlyphs" >Ensino</text>
<rect x="1090.3" y="1004.4" width="39.2" height="45.6" fill="#ff0000" stroke="#7a2a7a" stroke-width="1"/>
<text x="1109.9" y="1040.0" font-size="33" font-family="Liberation Sans, sans-serif" font-weight="bold" fill="#fff" text-anchor="middle"  >7</text>
<rect x="49.0" y="1122.0" width="382.0" height="100.0" fill="#002060" stroke="#41719c" stroke-width="1"/>
<text x="186.0" y="1162.0" font-size="31.4" font-family="Liberation Sans, sans-serif" font-weight="normal" fill="#fff" text-anchor="start" textLength="109.0" lengthAdjust="spacingAndGlyphs" >Bloco B</text>
<text x="142.5" y="1207.0" font-size="31.4" font-family="Liberation Sans, sans-serif" font-weight="normal" fill="#fff" text-anchor="start" textLength="195.0" lengthAdjust="spacingAndGlyphs" >Salas da Aula</text>
<g transform="rotate(45 177 391.5)">
<rect x="137.54" y="352.04" width="78.91" height="78.91" rx="9" fill="#f9c80e" stroke="#e3a90a" stroke-width="1.2"/>
<rect x="142.94" y="357.44" width="68.11" height="68.11" rx="5.8" fill="none" stroke="#0a0a0a" stroke-width="4.4"/>
</g>
<g fill="#0a0a0a" stroke="none">
<path d="M161.5,377 C163,370.5 170,368.5 176.5,368.5 C184,368.5 190.5,371 192.5,377.5 L193.5,386.5 C192,393 184,396.5 176.5,396.5 C169,396.5 161.5,393 161,386.5 Z"/>
<path d="M151.5,380 L160,377.5 L160,396 L152,394 Z"/>
<circle cx="158.7" cy="403.7" r="4.6"/>
<rect x="193.6" y="383" width="2.6" height="28"/>
<rect x="191.5" y="409" width="7" height="2.8" rx="1.2"/>
</g>
<path d="M162,397.5 L196,404.5 M161,395 L196,398.5" stroke="#0a0a0a" stroke-width="2.2" fill="none"/>
<ellipse cx="198.6" cy="387" rx="3.2" ry="9.6" fill="none" stroke="#0a0a0a" stroke-width="1.7"/>
<path d="M163,386.5 C168,391.5 186,391.5 192,385.5" stroke="#f9c80e" stroke-width="1.3" fill="none"/>
<ellipse cx="177" cy="371.5" rx="9.5" ry="2.4" fill="#f9c80e" opacity="0.85"/>
<ellipse cx="177" cy="371.7" rx="8.2" ry="1.7" fill="#0a0a0a"/>
<g transform="rotate(45 355.9 398.2)">
<rect x="319.13" y="361.43" width="73.54" height="73.54" rx="4" fill="#fdb50e" stroke="#d99700" stroke-width="1.2"/>
<rect x="322.03" y="364.33" width="67.74" height="67.74" rx="2.3" fill="none" stroke="#0a0a0a" stroke-width="1.9"/>
</g>
<g fill="#0a0a0a">
<circle cx="351.9" cy="371.3" r="5.3"/>
<path d="M345.6,372.6 L349.5,369.2 L350,374.5 Z"/>
<path d="M350.3,380 C352,378 359,377 363.5,378 L368.8,380.2 L372.3,382.8 L371.6,385.6 L370,392.8 L367.2,392.2 L368,386 L365.6,384.4 L366.6,398 L372.3,422.3 C372.8,425.2 368.6,426 367.6,423.6 L361.6,405.5 L360.3,403 L357.4,412 L356.8,423.6 C356.6,426 351.8,426 351.7,423.4 L352.2,410 L353.3,398 L353.5,388.5 L348.2,401.4 L345,400.2 L347.4,389.5 Z"/>
</g>
<path d="M331,406.2 L377,387.6" stroke="#0a0a0a" stroke-width="1.7"/>
<path d="M329.3,407 C330.5,402 336,400 338.6,402.2 L337.2,405 Z" fill="#0a0a0a"/>
<circle cx="538.9" cy="566.5" r="19.5" fill="#5ea33a" filter="url(#bush)"/>
<circle cx="703.1" cy="565.2" r="19.5" fill="#5ea33a" filter="url(#bush)"/>
<circle cx="632.7" cy="624.7" r="19.5" fill="#5ea33a" filter="url(#bush)"/>
<polygon points="538.4,612.1 540.5,612.1 543.7,620.7 539.4,621.3" fill="#707a78"/>
<polygon points="574.7,623.9 578.5,623.9 580.1,634.4 573.7,635.7" fill="#707a78"/>
<polygon points="533.0,608.9 543.7,606.4 586.5,616.9 576.9,620.7" fill="#c89a55"/>
<polygon points="533.0,608.9 576.9,620.7 576.9,622.3 533.0,610.5" fill="#8a6a3a"/>
<polygon points="534.1,626.1 568.3,625.5 570.5,629.3 533.0,630.2" fill="#e8801a"/>
<polygon points="533.0,630.2 570.5,629.3 570.5,631.2 533.0,632.2" fill="#a85208"/>
<polygon points="536.2,631.8 537.8,631.8 537.8,638.2 536.2,638.2" fill="#3a2a20"/>
<polygon points="565.1,631.2 566.7,631.2 566.7,638.2 565.1,638.2" fill="#3a2a20"/>
<polygon points="679.9,610.3 682.0,610.3 685.2,619.2 681.0,619.9" fill="#707a78"/>
<polygon points="716.1,622.5 719.8,622.5 721.4,633.4 715.0,634.8" fill="#707a78"/>
<polygon points="674.6,606.9 685.2,604.3 727.8,615.2 718.2,619.2" fill="#c89a55"/>
<polygon points="674.6,606.9 718.2,619.2 718.2,620.8 674.6,608.6" fill="#8a6a3a"/>
<polygon points="675.7,624.8 709.7,624.2 711.8,628.1 674.6,629.1" fill="#e8801a"/>
<polygon points="674.6,629.1 711.8,628.1 711.8,630.1 674.6,631.1" fill="#a85208"/>
<polygon points="677.8,630.8 679.4,630.8 679.4,637.4 677.8,637.4" fill="#3a2a20"/>
<polygon points="706.5,630.1 708.1,630.1 708.1,637.4 706.5,637.4" fill="#3a2a20"/>
<text x="587.8" y="561.8" font-size="25.5" font-family="Liberation Serif, serif" font-weight="normal" fill="#000" text-anchor="start" textLength="69.0" lengthAdjust="spacingAndGlyphs" >Praça 1</text>
<text x="581.3" y="590.0" font-size="25.5" font-family="Liberation Serif, serif" font-weight="normal" fill="#000" text-anchor="start" textLength="84.0" lengthAdjust="spacingAndGlyphs" >Química</text>
<circle cx="532.5" cy="930.5" r="19.5" fill="#5ea33a" filter="url(#bush)"/>
<circle cx="620.2" cy="1001.7" r="19.5" fill="#5ea33a" filter="url(#bush)"/>
<circle cx="556" cy="1032.7" r="19.5" fill="#5ea33a" filter="url(#bush)"/>
<circle cx="692.2" cy="1033.9" r="19.5" fill="#5ea33a" filter="url(#bush)"/>
<polygon points="524.1,976.1 526.2,976.1 529.5,985.1 525.2,985.8" fill="#707a78"/>
<polygon points="560.7,988.5 564.5,988.5 566.1,999.5 559.7,1000.8" fill="#707a78"/>
<polygon points="518.7,972.8 529.5,970.1 572.6,981.1 562.9,985.1" fill="#c89a55"/>
<polygon points="518.7,972.8 562.9,985.1 562.9,986.8 518.7,974.4" fill="#8a6a3a"/>
<polygon points="519.8,990.8 554.3,990.1 556.4,994.1 518.7,995.1" fill="#e8801a"/>
<polygon points="518.7,995.1 556.4,994.1 556.4,996.2 518.7,997.2" fill="#a85208"/>
<polygon points="521.9,996.8 523.6,996.8 523.6,1003.5 521.9,1003.5" fill="#3a2a20"/>
<polygon points="551.0,996.2 552.7,996.2 552.7,1003.5 551.0,1003.5" fill="#3a2a20"/>
<polygon points="647.9,984.0 650.0,984.0 653.3,992.9 649.0,993.6" fill="#707a78"/>
<polygon points="684.5,996.2 688.3,996.2 689.9,1007.1 683.5,1008.5" fill="#707a78"/>
<polygon points="642.5,980.6 653.3,978.0 696.4,988.9 686.7,992.9" fill="#c89a55"/>
<polygon points="642.5,980.6 686.7,992.9 686.7,994.5 642.5,982.3" fill="#8a6a3a"/>
<polygon points="643.6,998.5 678.1,997.9 680.2,1001.8 642.5,1002.8" fill="#e8801a"/>
<polygon points="642.5,1002.8 680.2,1001.8 680.2,1003.8 642.5,1004.8" fill="#a85208"/>
<polygon points="645.7,1004.5 647.4,1004.5 647.4,1011.1 645.7,1011.1" fill="#3a2a20"/>
<polygon points="674.8,1003.8 676.5,1003.8 676.5,1011.1 674.8,1011.1" fill="#3a2a20"/>
<polygon points="609.7,1040.0 611.8,1040.0 615.0,1046.5 610.7,1047.0" fill="#707a78"/>
<polygon points="646.2,1048.9 649.9,1048.9 651.6,1056.8 645.1,1057.8" fill="#707a78"/>
<polygon points="604.3,1037.6 615.0,1035.7 658.0,1043.6 648.3,1046.5" fill="#c89a55"/>
<polygon points="604.3,1037.6 648.3,1046.5 648.3,1047.7 604.3,1038.8" fill="#8a6a3a"/>
<polygon points="605.4,1050.6 639.7,1050.1 641.9,1053.0 604.3,1053.7" fill="#e8801a"/>
<polygon points="604.3,1053.7 641.9,1053.0 641.9,1054.4 604.3,1055.1" fill="#a85208"/>
<polygon points="607.5,1054.9 609.1,1054.9 609.1,1059.7 607.5,1059.7" fill="#3a2a20"/>
<polygon points="636.5,1054.4 638.1,1054.4 638.1,1059.7 636.5,1059.7" fill="#3a2a20"/>
<text x="602.6" y="935.7" font-size="23" font-family="Liberation Serif, serif" font-weight="normal" fill="#000" text-anchor="start" textLength="62.0" lengthAdjust="spacingAndGlyphs" >Praça 2</text>
<text x="547.5" y="960.5" font-size="23" font-family="Liberation Serif, serif" font-weight="normal" fill="#000" text-anchor="start" textLength="171.2" lengthAdjust="spacingAndGlyphs" >Química /Geografia</text>
<rect x="476.0" y="38.0" width="16.5" height="153.5" fill="#ff0000" stroke="#b00000" stroke-width="0.6"/>
<polygon points="468.5,39.5 499.5,39.5 484.0,22.5" fill="#f20000"/>
<rect x="417.5" y="55.0" width="133.5" height="68.5" fill="#fffbd0" stroke="#e23a2a" stroke-width="1.5"/>
<text x="445.0" y="82.5" font-size="21" font-family="Liberation Sans, sans-serif" font-weight="bold" fill="#000" text-anchor="start" textLength="77.5" lengthAdjust="spacingAndGlyphs" >Biologia</text>
<text x="427.5" y="111.0" font-size="21" font-family="Liberation Sans, sans-serif" font-weight="bold" fill="#000" text-anchor="start" textLength="113.5" lengthAdjust="spacingAndGlyphs" >(DSE/DBM)</text>
<path d="M474,1040.5 H491.9 V1163.5 H500.3 L482.2,1181.4 L464.1,1163.5 H474 Z" fill="#ff0000" stroke="#7a0000" stroke-width="1"/>
<rect x="406.5" y="1070.5" width="143.5" height="41.5" fill="#fffbd0" stroke="#e23a2a" stroke-width="1.5"/>
<text x="424.0" y="1099.5" font-size="21.5" font-family="Liberation Sans, sans-serif" font-weight="bold" fill="#000" text-anchor="start" textLength="107.0" lengthAdjust="spacingAndGlyphs" >Geografia</text>
</g>
<rect x="1133.5" y="221.0" width="363.2" height="17.0" fill="#8c8c8c" opacity="0.75" filter="url(#sh5)"/>
<rect x="1133.5" y="28.0" width="13.0" height="203.0" fill="#8e8e8e" opacity="0.75" filter="url(#sh3)"/>
<linearGradient id="lg1" gradientUnits="userSpaceOnUse" x1="1140.5" y1="18" x2="1494.1" y2="116.9"><stop offset="0" stop-color="#edebcd"/><stop offset="0.12" stop-color="#fdfbc4"/><stop offset="0.5" stop-color="#f2f3cd"/><stop offset="0.8" stop-color="#e5e8d9"/><stop offset="1" stop-color="#d9dee6"/></linearGradient>
<rect x="1140.5" y="18.0" width="380.2" height="209.0" fill="url(#lg1)"/>
<rect x="1517.7" y="18.0" width="3.0" height="209.0" fill="#ffffff" opacity="0.55"/>
<rect x="1140.5" y="18.0" width="380.2" height="1.5" fill="#ffffff" opacity="0.5"/>
<rect x="1140.5" y="225.5" width="380.2" height="1.5" fill="#c9cdbd" opacity="0.6"/>
<ellipse cx="1182" cy="205" rx="32" ry="3.5" fill="#b9b78a" opacity="0.5" filter="url(#sh2)"/>
<path d="M1239.6,21.7 L1242.4,21.7 L1226.6,203 L1224,203 Z" fill="url(#poleG)"/>
<path d="M1242.2,25.6 C1252,46 1283,54 1317.8,51.7 C1305,76 1272,92 1237.2,85.6 Z" fill="url(#flagG)"/>
<path d="M1248,40 C1262,58 1290,62 1312,57" stroke="#6cb8ff" stroke-width="3" fill="none" opacity="0.45"/>
<g fill="url(#bodyG)" stroke="#c2c2c2" stroke-width="0.5">
<path d="M1172,104 C1166,108 1163.5,120 1160.5,145 C1158.5,156 1156.5,163 1157.5,169 C1158.5,175 1163,175.5 1163.5,170 C1164,164 1166,157 1167,150 C1169,138 1171.5,128 1174,118 Z"/>
<path d="M1174,150 C1172,166 1169.5,182 1167.5,194 C1163,197 1161.5,201 1163,202.8 C1167,204.5 1175,204.3 1178,202.8 C1179,200 1178,196 1177.2,193 C1179,183 1182,173 1186,164 Z"/>
<path d="M1185,164 C1187.5,173 1189.5,184 1190.2,193 C1189,197 1188,201 1189,202.8 C1193,204.5 1200,204.3 1203,202.8 C1204,200.5 1202,196.5 1199.3,193.5 C1199,180 1198.5,164 1198.5,150 Z"/>
<path d="M1180,96 C1173,98 1170,104 1171,113 C1172,126 1173.5,140 1174,152 C1176,162 1181,167 1186,167 C1192,167 1197,161 1198.5,152 C1199.5,140 1201.5,126 1202.8,113 C1203.5,104 1200,98 1192,96 Z"/>
<path d="M1199,101 C1210,102 1221,104 1230,105 L1231.5,112 C1221,112.5 1210,113 1201,114 Z"/>
<ellipse cx="1233.5" cy="109.5" rx="4.2" ry="6.4"/>
</g>
<ellipse cx="1180.9" cy="73.4" rx="22" ry="24" fill="url(#sphere)"/>
<text x="1238.3" y="163.1" font-size="20.8" font-family="Liberation Sans, sans-serif" font-weight="bold" fill="#000" text-anchor="start" textLength="263.4" lengthAdjust="spacingAndGlyphs" >Departamento de Química</text>
<text x="1238.3" y="191.2" font-size="20.8" font-family="Liberation Sans, sans-serif" font-weight="normal" fill="#000" text-anchor="start" textLength="192.4" lengthAdjust="spacingAndGlyphs" >TEL: (83) 3216-7200</text>
<rect x="1135.0" y="385.7" width="364.8" height="17.0" fill="#8c8c8c" opacity="0.75" filter="url(#sh5)"/>
<rect x="1135.0" y="281.0" width="13.0" height="114.7" fill="#8e8e8e" opacity="0.75" filter="url(#sh3)"/>
<linearGradient id="lg2" gradientUnits="userSpaceOnUse" x1="1142" y1="271" x2="1497.1" y2="370.3"><stop offset="0" stop-color="#edebcd"/><stop offset="0.12" stop-color="#fdfbc4"/><stop offset="0.5" stop-color="#f2f3cd"/><stop offset="0.8" stop-color="#e5e8d9"/><stop offset="1" stop-color="#d9dee6"/></linearGradient>
<rect x="1142.0" y="271.0" width="381.8" height="120.7" fill="url(#lg2)"/>
<rect x="1520.8" y="271.0" width="3.0" height="120.7" fill="#ffffff" opacity="0.55"/>
<rect x="1142.0" y="271.0" width="381.8" height="1.5" fill="#ffffff" opacity="0.5"/>
<rect x="1142.0" y="390.2" width="381.8" height="1.5" fill="#c9cdbd" opacity="0.6"/>
<rect x="1152.0" y="285.0" width="64.8" height="67.4" fill="#666" opacity="0.5" filter="url(#sh2)"/>
<rect x="1151.0" y="283.0" width="63.8" height="66.4" fill="#fff"/>
<rect x="1154.7" y="286.7" width="56.4" height="59.0" fill="url(#redB)"/>
<rect x="1154.7" y="286.7" width="56.4" height="1.8" fill="#ff5a5a" opacity="0.6"/>
<rect x="1154.7" y="343.9" width="56.4" height="1.8" fill="#8a0000" opacity="0.6"/>
<text x="1182.9" y="328.3" font-size="33.5" font-family="Liberation Sans, sans-serif" font-weight="bold" fill="#fff" text-anchor="middle"  >1</text>
<text x="1234.4" y="307.7" font-size="22.2" font-family="Liberation Sans, sans-serif" font-weight="bold" fill="#000" text-anchor="start" textLength="193.0" lengthAdjust="spacingAndGlyphs" >Programa de Pós-</text>
<text x="1234.4" y="339.0" font-size="22.2" font-family="Liberation Sans, sans-serif" font-weight="bold" fill="#000" text-anchor="start" textLength="258.1" lengthAdjust="spacingAndGlyphs" >Graduação em Química</text>
<text x="1234.4" y="371.6" font-size="22.2" font-family="Liberation Sans, sans-serif" font-weight="normal" fill="#000" text-anchor="start" textLength="216.4" lengthAdjust="spacingAndGlyphs" >TEL: (83) 3216-7437</text>
<rect x="1135.0" y="529.9" width="364.8" height="17.0" fill="#8c8c8c" opacity="0.75" filter="url(#sh5)"/>
<rect x="1135.0" y="425.7" width="13.0" height="114.2" fill="#8e8e8e" opacity="0.75" filter="url(#sh3)"/>
<linearGradient id="lg3" gradientUnits="userSpaceOnUse" x1="1142" y1="415.7" x2="1497.1" y2="515.0"><stop offset="0" stop-color="#edebcd"/><stop offset="0.12" stop-color="#fdfbc4"/><stop offset="0.5" stop-color="#f2f3cd"/><stop offset="0.8" stop-color="#e5e8d9"/><stop offset="1" stop-color="#d9dee6"/></linearGradient>
<rect x="1142.0" y="415.7" width="381.8" height="120.2" fill="url(#lg3)"/>
<rect x="1520.8" y="415.7" width="3.0" height="120.2" fill="#ffffff" opacity="0.55"/>
<rect x="1142.0" y="415.7" width="381.8" height="1.5" fill="#ffffff" opacity="0.5"/>
<rect x="1142.0" y="534.4" width="381.8" height="1.5" fill="#c9cdbd" opacity="0.6"/>
<rect x="1154.6" y="426.8" width="65.4" height="67.0" fill="#666" opacity="0.5" filter="url(#sh2)"/>
<rect x="1153.6" y="424.8" width="64.4" height="66.0" fill="#fff"/>
<rect x="1157.3" y="428.5" width="57.0" height="58.6" fill="url(#redB)"/>
<rect x="1157.3" y="428.5" width="57.0" height="1.8" fill="#ff5a5a" opacity="0.6"/>
<rect x="1157.3" y="485.3" width="57.0" height="1.8" fill="#8a0000" opacity="0.6"/>
<text x="1185.8" y="469.9" font-size="33.5" font-family="Liberation Sans, sans-serif" font-weight="bold" fill="#fff" text-anchor="middle"  >2</text>
<text x="1235.2" y="447.7" font-size="22.2" font-family="Liberation Sans, sans-serif" font-weight="bold" fill="#000" text-anchor="start" textLength="177.8" lengthAdjust="spacingAndGlyphs" >Coordenação de</text>
<text x="1235.2" y="479.0" font-size="22.2" font-family="Liberation Sans, sans-serif" font-weight="bold" fill="#000" text-anchor="start" textLength="116.5" lengthAdjust="spacingAndGlyphs" >Graduação</text>
<text x="1235.2" y="511.6" font-size="22.2" font-family="Liberation Sans, sans-serif" font-weight="normal" fill="#000" text-anchor="start" textLength="216.4" lengthAdjust="spacingAndGlyphs" >TEL: (83) 3216-7019</text>
<rect x="1136.8" y="646.0" width="364.5" height="17.0" fill="#8c8c8c" opacity="0.75" filter="url(#sh5)"/>
<rect x="1136.8" y="565.4" width="13.0" height="90.6" fill="#8e8e8e" opacity="0.75" filter="url(#sh3)"/>
<linearGradient id="lg4" gradientUnits="userSpaceOnUse" x1="1143.8" y1="555.4" x2="1498.6" y2="654.6"><stop offset="0" stop-color="#edebcd"/><stop offset="0.12" stop-color="#fdfbc4"/><stop offset="0.5" stop-color="#f2f3cd"/><stop offset="0.8" stop-color="#e5e8d9"/><stop offset="1" stop-color="#d9dee6"/></linearGradient>
<rect x="1143.8" y="555.4" width="381.5" height="96.6" fill="url(#lg4)"/>
<rect x="1522.3" y="555.4" width="3.0" height="96.6" fill="#ffffff" opacity="0.55"/>
<rect x="1143.8" y="555.4" width="381.5" height="1.5" fill="#ffffff" opacity="0.5"/>
<rect x="1143.8" y="650.5" width="381.5" height="1.5" fill="#c9cdbd" opacity="0.6"/>
<rect x="1154.0" y="568.0" width="65.2" height="66.0" fill="#666" opacity="0.5" filter="url(#sh2)"/>
<rect x="1153.0" y="566.0" width="64.2" height="65.0" fill="#fff"/>
<rect x="1156.7" y="569.7" width="56.8" height="57.6" fill="url(#redB)"/>
<rect x="1156.7" y="569.7" width="56.8" height="1.8" fill="#ff5a5a" opacity="0.6"/>
<rect x="1156.7" y="625.5" width="56.8" height="1.8" fill="#8a0000" opacity="0.6"/>
<text x="1185.1" y="610.6" font-size="33.5" font-family="Liberation Sans, sans-serif" font-weight="bold" fill="#fff" text-anchor="middle"  >3</text>
<text x="1236.2" y="598.3" font-size="22.2" font-family="Liberation Sans, sans-serif" font-weight="bold" fill="#000" text-anchor="start" textLength="256.3" lengthAdjust="spacingAndGlyphs" >Sala do Prof. Dr. Cosme</text>
<text x="1237.6" y="630.2" font-size="22.2" font-family="Liberation Sans, sans-serif" font-weight="bold" fill="#000" text-anchor="start" textLength="256.9" lengthAdjust="spacingAndGlyphs" >Rafael Martinez Salinas</text>
<rect x="1136.8" y="761.7" width="364.2" height="17.0" fill="#8c8c8c" opacity="0.75" filter="url(#sh5)"/>
<rect x="1136.8" y="681.7" width="13.0" height="90.0" fill="#8e8e8e" opacity="0.75" filter="url(#sh3)"/>
<linearGradient id="lg5" gradientUnits="userSpaceOnUse" x1="1143.8" y1="671.7" x2="1498.3" y2="770.8"><stop offset="0" stop-color="#edebcd"/><stop offset="0.12" stop-color="#fdfbc4"/><stop offset="0.5" stop-color="#f2f3cd"/><stop offset="0.8" stop-color="#e5e8d9"/><stop offset="1" stop-color="#d9dee6"/></linearGradient>
<rect x="1143.8" y="671.7" width="381.2" height="96.0" fill="url(#lg5)"/>
<rect x="1522.0" y="671.7" width="3.0" height="96.0" fill="#ffffff" opacity="0.55"/>
<rect x="1143.8" y="671.7" width="381.2" height="1.5" fill="#ffffff" opacity="0.5"/>
<rect x="1143.8" y="766.2" width="381.2" height="1.5" fill="#c9cdbd" opacity="0.6"/>
<ellipse cx="1187.3" cy="717" rx="35.6" ry="28.3" fill="#555" opacity="0.5" filter="url(#sh2)"/>
<ellipse cx="1185.8" cy="714" rx="35.6" ry="28.3" fill="#fff"/>
<ellipse cx="1185.8" cy="714" rx="32" ry="24.8" fill="url(#redE)"/>
<text x="1185.8" y="729.5" font-size="43" font-family="Liberation Sans, sans-serif" font-weight="bold" fill="#fff" text-anchor="middle"  >4</text>
<text x="1240.4" y="724.9" font-size="22.2" font-family="Liberation Sans, sans-serif" font-weight="bold" fill="#000" text-anchor="start" textLength="169.0" lengthAdjust="spacingAndGlyphs" >Auditório CCEN</text>
<rect x="1136.8" y="879.4" width="364.2" height="17.0" fill="#8c8c8c" opacity="0.75" filter="url(#sh5)"/>
<rect x="1136.8" y="799.3" width="13.0" height="90.1" fill="#8e8e8e" opacity="0.75" filter="url(#sh3)"/>
<linearGradient id="lg6" gradientUnits="userSpaceOnUse" x1="1143.8" y1="789.3" x2="1498.3" y2="888.4"><stop offset="0" stop-color="#edebcd"/><stop offset="0.12" stop-color="#fdfbc4"/><stop offset="0.5" stop-color="#f2f3cd"/><stop offset="0.8" stop-color="#e5e8d9"/><stop offset="1" stop-color="#d9dee6"/></linearGradient>
<rect x="1143.8" y="789.3" width="381.2" height="96.1" fill="url(#lg6)"/>
<rect x="1522.0" y="789.3" width="3.0" height="96.1" fill="#ffffff" opacity="0.55"/>
<rect x="1143.8" y="789.3" width="381.2" height="1.5" fill="#ffffff" opacity="0.5"/>
<rect x="1143.8" y="883.9" width="381.2" height="1.5" fill="#c9cdbd" opacity="0.6"/>
<ellipse cx="1187.3" cy="835" rx="35.6" ry="28.3" fill="#555" opacity="0.5" filter="url(#sh2)"/>
<ellipse cx="1185.8" cy="832" rx="35.6" ry="28.3" fill="#fff"/>
<ellipse cx="1185.8" cy="832" rx="32" ry="24.8" fill="url(#redE)"/>
<text x="1185.8" y="847.5" font-size="43" font-family="Liberation Sans, sans-serif" font-weight="bold" fill="#fff" text-anchor="middle"  >5</text>
<text x="1243.2" y="847.3" font-size="22.2" font-family="Liberation Sans, sans-serif" font-weight="bold" fill="#000" text-anchor="start" textLength="267.5" lengthAdjust="spacingAndGlyphs" >Sala de Reuniões/ DQ03</text>
<rect x="1136.0" y="997.5" width="364.0" height="17.0" fill="#8c8c8c" opacity="0.75" filter="url(#sh5)"/>
<rect x="1136.0" y="918.0" width="13.0" height="89.5" fill="#8e8e8e" opacity="0.75" filter="url(#sh3)"/>
<linearGradient id="lg7" gradientUnits="userSpaceOnUse" x1="1143" y1="908" x2="1497.3" y2="1007.1"><stop offset="0" stop-color="#edebcd"/><stop offset="0.12" stop-color="#fdfbc4"/><stop offset="0.5" stop-color="#f2f3cd"/><stop offset="0.8" stop-color="#e5e8d9"/><stop offset="1" stop-color="#d9dee6"/></linearGradient>
<rect x="1143.0" y="908.0" width="381.0" height="95.5" fill="url(#lg7)"/>
<rect x="1521.0" y="908.0" width="3.0" height="95.5" fill="#ffffff" opacity="0.55"/>
<rect x="1143.0" y="908.0" width="381.0" height="1.5" fill="#ffffff" opacity="0.5"/>
<rect x="1143.0" y="1002.0" width="381.0" height="1.5" fill="#c9cdbd" opacity="0.6"/>
<ellipse cx="1190.0" cy="953.8" rx="35.6" ry="28.3" fill="#555" opacity="0.5" filter="url(#sh2)"/>
<ellipse cx="1188.5" cy="950.8" rx="35.6" ry="28.3" fill="#fff"/>
<ellipse cx="1188.5" cy="950.8" rx="32" ry="24.8" fill="url(#redE)"/>
<text x="1188.5" y="966.3" font-size="43" font-family="Liberation Sans, sans-serif" font-weight="bold" fill="#fff" text-anchor="middle"  >6</text>
<text x="1242.0" y="965.5" font-size="22.2" font-family="Liberation Sans, sans-serif" font-weight="bold" fill="#000" text-anchor="start" textLength="227.5" lengthAdjust="spacingAndGlyphs" >Auditório do LACOM</text>
<rect x="1135.0" y="1138.5" width="364.0" height="17.0" fill="#8c8c8c" opacity="0.75" filter="url(#sh5)"/>
<rect x="1135.0" y="1035.5" width="13.0" height="113.0" fill="#8e8e8e" opacity="0.75" filter="url(#sh3)"/>
<linearGradient id="lg8" gradientUnits="userSpaceOnUse" x1="1142" y1="1025.5" x2="1496.3" y2="1124.6"><stop offset="0" stop-color="#edebcd"/><stop offset="0.12" stop-color="#fdfbc4"/><stop offset="0.5" stop-color="#f2f3cd"/><stop offset="0.8" stop-color="#e5e8d9"/><stop offset="1" stop-color="#d9dee6"/></linearGradient>
<rect x="1142.0" y="1025.5" width="381.0" height="119.0" fill="url(#lg8)"/>
<rect x="1520.0" y="1025.5" width="3.0" height="119.0" fill="#ffffff" opacity="0.55"/>
<rect x="1142.0" y="1025.5" width="381.0" height="1.5" fill="#ffffff" opacity="0.5"/>
<rect x="1142.0" y="1143.0" width="381.0" height="1.5" fill="#c9cdbd" opacity="0.6"/>
<rect x="1158.7" y="1051.2" width="64.7" height="65.9" fill="#666" opacity="0.5" filter="url(#sh2)"/>
<rect x="1157.7" y="1049.2" width="63.7" height="64.9" fill="#fff"/>
<rect x="1161.4" y="1052.9" width="56.3" height="57.5" fill="url(#redB)"/>
<rect x="1161.4" y="1052.9" width="56.3" height="1.8" fill="#ff5a5a" opacity="0.6"/>
<rect x="1161.4" y="1108.6" width="56.3" height="1.8" fill="#8a0000" opacity="0.6"/>
<text x="1189.6" y="1093.7" font-size="33.5" font-family="Liberation Sans, sans-serif" font-weight="bold" fill="#fff" text-anchor="middle"  >7</text>
<text x="1236.0" y="1067.0" font-size="22.2" font-family="Liberation Sans, sans-serif" font-weight="bold" fill="#000" text-anchor="start" textLength="162.0" lengthAdjust="spacingAndGlyphs" >Laboratório de</text>
<text x="1236.0" y="1098.5" font-size="22.2" font-family="Liberation Sans, sans-serif" font-weight="bold" fill="#000" text-anchor="start" textLength="137.0" lengthAdjust="spacingAndGlyphs" >Hialotécnica</text>
<text x="1236.0" y="1131.0" font-size="22.2" font-family="Liberation Sans, sans-serif" font-weight="normal" fill="#000" text-anchor="start" textLength="167.5" lengthAdjust="spacingAndGlyphs" >(83) 3216-7596</text>
<rect x="1137.0" y="1255.6" width="364.5" height="17.0" fill="#8c8c8c" opacity="0.75" filter="url(#sh5)"/>
<rect x="1137.0" y="1176.0" width="13.0" height="89.6" fill="#8e8e8e" opacity="0.75" filter="url(#sh3)"/>
<linearGradient id="lg9" gradientUnits="userSpaceOnUse" x1="1144" y1="1166" x2="1498.8" y2="1265.2"><stop offset="0" stop-color="#edebcd"/><stop offset="0.12" stop-color="#fdfbc4"/><stop offset="0.5" stop-color="#f2f3cd"/><stop offset="0.8" stop-color="#e5e8d9"/><stop offset="1" stop-color="#d9dee6"/></linearGradient>
<rect x="1144.0" y="1166.0" width="381.5" height="95.6" fill="url(#lg9)"/>
<rect x="1522.5" y="1166.0" width="3.0" height="95.6" fill="#ffffff" opacity="0.55"/>
<rect x="1144.0" y="1166.0" width="381.5" height="1.5" fill="#ffffff" opacity="0.5"/>
<rect x="1144.0" y="1260.1" width="381.5" height="1.5" fill="#c9cdbd" opacity="0.6"/>
<rect x="1160.8" y="1173.8" width="65.3" height="67.2" fill="#666" opacity="0.5" filter="url(#sh2)"/>
<rect x="1159.8" y="1171.8" width="64.3" height="66.2" fill="#fff"/>
<rect x="1163.5" y="1175.5" width="56.9" height="58.8" fill="url(#redB)"/>
<rect x="1163.5" y="1175.5" width="56.9" height="1.8" fill="#ff5a5a" opacity="0.6"/>
<rect x="1163.5" y="1232.5" width="56.9" height="1.8" fill="#8a0000" opacity="0.6"/>
<text x="1191.9" y="1217.0" font-size="33.5" font-family="Liberation Sans, sans-serif" font-weight="bold" fill="#fff" text-anchor="middle"  >8</text>
<text x="1247.0" y="1207.0" font-size="22.2" font-family="Liberation Sans, sans-serif" font-weight="bold" fill="#000" text-anchor="start" textLength="161.5" lengthAdjust="spacingAndGlyphs" >Laboratório de</text>
<text x="1247.0" y="1238.5" font-size="22.2" font-family="Liberation Sans, sans-serif" font-weight="bold" fill="#000" text-anchor="start" textLength="138.5" lengthAdjust="spacingAndGlyphs" >Computação</text>
</svg>
</body></html>
